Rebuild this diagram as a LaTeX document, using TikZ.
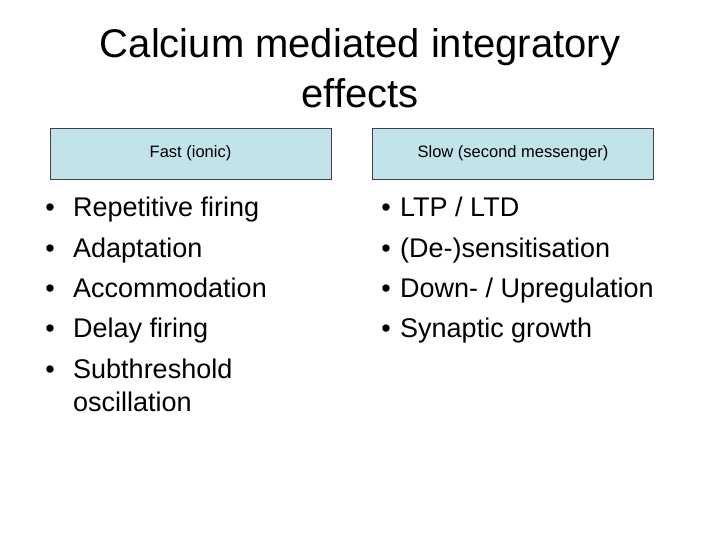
\documentclass[tikz,border=0pt]{standalone}
\usepackage{fontspec}
\setmainfont{Liberation Sans}
\definecolor{boxfill}{RGB}{193,227,233}
\begin{document}
\begin{tikzpicture}[x=1pt,y=-1pt,
  hdr/.style={draw=black!75,fill=boxfill,line width=0.8pt,minimum width=281pt,minimum height=51pt,inner sep=0pt,font=\fontsize{16.5}{19}\selectfont},
  item/.style={anchor=base west,inner sep=0pt,font=\fontsize{27}{30}\selectfont},
  bul/.style={anchor=base,inner sep=0pt,font=\fontsize{27}{30}\selectfont}]
\useasboundingbox (0,0) rectangle (720,540);
\node[font=\fontsize{40}{50}\selectfont,anchor=base] (t1) at (360,58) {Calcium mediated integratory};
\node[font=\fontsize{40}{50}\selectfont,anchor=base] (t2) at (360,108) {effects};
\node[hdr] (fast) at (190.5,153.5) {Fast (ionic)};
\node[hdr] (slow) at (513,153.5) {Slow (second messenger)};
\foreach \t [count=\i] in {Repetitive firing,Adaptation,Accommodation,Delay firing,Subthreshold}{
  \node[bul] (lb\i) at (50,{217+40.3*(\i-1)}) {•};
  \node[item] (l\i) at (73,{217+40.3*(\i-1)}) {\t};
}
\node[item] (l6) at (73,411) {oscillation};
\foreach \t [count=\i] in {LTP / LTD,(De-)sensitisation,Down- / Upregulation,Synaptic growth}{
  \node[bul] (rb\i) at (386,{217+40.3*(\i-1)}) {•};
  \node[item] (r\i) at (400,{217+40.3*(\i-1)}) {\t};
}
\end{tikzpicture}
\end{document}
